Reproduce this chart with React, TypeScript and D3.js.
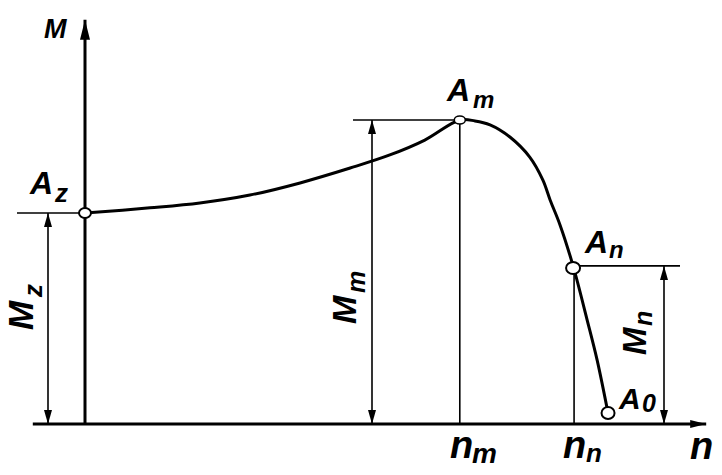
import React from "react";
import * as d3 from "d3";

// Torque–speed characteristic (n in arbitrary units, M relative to Mm)
const curveN = [0, 124.5, 220, 316, 412, 508, 584, 651, 718, 747, 776, 814, 852, 877, 891, 910, 935, 962, 981, 1002];
const curveM = [0.694, 0.711, 0.727, 0.753, 0.793, 0.842, 0.885, 0.934, 1.0, 0.997, 0.984, 0.944, 0.878, 0.803, 0.737, 0.655, 0.52, 0.342, 0.211, 0.036];

// Characteristic points: Az, Am, An, A0
const keyNames = ["z", "m", "n", "0"];
const keyN = [0, 718, 935, 1002];
const keyM = [0.694, 1.0, 0.52, 0.036];

const W = 722;
const H = 475;

const x = d3.scaleLinear().domain([0, 1000]).range([85, 607]);
const y = d3.scaleLinear().domain([0, 1]).range([424, 120]);

const FONT = "'Liberation Sans', Arial, sans-serif";

function Arrow({ x1, y1, x2, y2, len = 14, half = 4 }: any) {
  const dx = x2 - x1, dy = y2 - y1;
  const L = Math.hypot(dx, dy);
  const ux = dx / L, uy = dy / L;
  const bx = x2 - ux * len, by = y2 - uy * len;
  const px = -uy * half, py = ux * half;
  return <path d={`M${x2},${y2}L${bx + px},${by + py}L${bx - px},${by - py}Z`} fill="#000" />;
}

function DimArrow({ xp, y1, y2 }: any) {
  return (
    <g>
      <line x1={xp} y1={y1} x2={xp} y2={y2} stroke="#000" strokeWidth={1.6} />
      <Arrow x1={xp} y1={y2} x2={xp} y2={y1} />
      <Arrow x1={xp} y1={y1} x2={xp} y2={y2} />
    </g>
  );
}

export default function App() {
  const line = d3
    .line<number>()
    .x((_, i) => x(curveN[i]))
    .y((_, i) => y(curveM[i]))
    .curve(d3.curveCatmullRom.alpha(0.5));
  const path = line(curveN) || "";

  const x0 = x(0);
  const yAxis = y(0);
  const [az, am, an, a0] = keyN.map((n, i) => [x(n), y(keyM[i])]);

  const txt = { fontFamily: FONT, fontWeight: 700, fontStyle: "italic", fill: "#000" } as any;

  return (
    <svg width={W} height={H} style={{ position: "absolute", left: 0, top: 0, background: "#fff" }}>
      <rect width={W} height={H} fill="#fff" />
      {/* axes */}
      <line x1={x(-100)} y1={yAxis} x2={x(1190)} y2={yAxis} stroke="#000" strokeWidth={3} />
      <Arrow x1={x(1100)} y1={yAxis} x2={x(1190)} y2={yAxis} len={16} half={4} />
      <line x1={x0} y1={yAxis} x2={x0} y2={y(1.33)} stroke="#000" strokeWidth={3} />
      <Arrow x1={x0} y1={y(1.2)} x2={x0} y2={y(1.33)} len={20} half={5} />

      {/* reference lines */}
      <line x1={17} y1={az[1]} x2={az[0]} y2={az[1]} stroke="#000" strokeWidth={1.6} />
      <line x1={353} y1={am[1]} x2={am[0]} y2={am[1]} stroke="#000" strokeWidth={1.6} />
      <line x1={am[0]} y1={am[1]} x2={am[0]} y2={yAxis} stroke="#000" strokeWidth={1.6} />
      <line x1={an[0]} y1={an[1]} x2={680} y2={an[1]} stroke="#000" strokeWidth={1.6} />
      <line x1={an[0] + 1} y1={an[1]} x2={an[0] + 1} y2={yAxis} stroke="#000" strokeWidth={1.6} />

      {/* dimension arrows */}
      <DimArrow xp={48} y1={az[1]} y2={yAxis} />
      <DimArrow xp={372} y1={am[1]} y2={yAxis} />
      <DimArrow xp={664} y1={an[1]} y2={yAxis} />

      {/* curve */}
      <path d={path} fill="none" stroke="#000" strokeWidth={3} />

      {/* points */}
      <ellipse cx={az[0]} cy={az[1]} rx={6} ry={5} fill="#fff" stroke="#000" strokeWidth={2} />
      <ellipse cx={am[0]} cy={am[1]} rx={5.5} ry={4} fill="#fff" stroke="#000" strokeWidth={1.5} />
      <ellipse cx={an[0]} cy={an[1] + 2} rx={7} ry={6} fill="#fff" stroke="#000" strokeWidth={2} />
      <ellipse cx={a0[0]} cy={a0[1]} rx={6.5} ry={6} fill="#fff" stroke="#000" strokeWidth={2} />

      {/* labels */}
      <text x={44} y={38} fontSize={27} {...txt}>M</text>
      <text x={690} y={459} fontSize={38} {...txt}>n</text>

      <text x={30} y={194} fontSize={32} {...txt}>A</text>
      <text x={55} y={202} fontSize={26} {...txt}>{keyNames[0]}</text>

      <text x={447} y={101} fontSize={32} {...txt}>A</text>
      <text x={473} y={108} fontSize={24} {...txt}>{keyNames[1]}</text>

      <text x={585} y={253} fontSize={32} {...txt}>A</text>
      <text x={609} y={258} fontSize={24} {...txt}>{keyNames[2]}</text>

      <text x={619} y={409} fontSize={30} {...txt}>A</text>
      <text x={642} y={412} fontSize={25} {...txt}>{keyNames[3]}</text>

      <text x={450} y={458} fontSize={38} {...txt}>n</text>
      <text x={472} y={463} fontSize={28} {...txt}>m</text>
      <text x={563} y={458} fontSize={38} {...txt}>n</text>
      <text x={586} y={462} fontSize={26} {...txt}>n</text>

      {/* rotated M labels */}
      <text transform="translate(33,330) rotate(-90)" fontSize={35} {...txt}>M</text>
      <text transform="translate(42,297) rotate(-90)" fontSize={26} {...txt}>z</text>

      <text transform="translate(356,324) rotate(-90)" fontSize={34} {...txt}>M</text>
      <text transform="translate(365,293) rotate(-90)" fontSize={25} {...txt}>m</text>

      <text transform="translate(646,355) rotate(-90)" fontSize={33} {...txt}>M</text>
      <text transform="translate(652,326) rotate(-90)" fontSize={25} {...txt}>n</text>
    </svg>
  );
}
